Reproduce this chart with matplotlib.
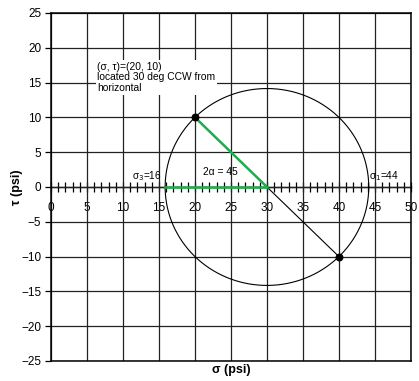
import numpy as np
import matplotlib.pyplot as plt
from matplotlib.ticker import MultipleLocator

plt.rcParams['font.family'] = ['Liberation Sans', 'DejaVu Sans']

# Stress state
sigma_x = 20
sigma_y = 40
tau_xy = 10

center = (sigma_x + sigma_y) / 2
radius = np.sqrt(((sigma_y - sigma_x) / 2) ** 2 + tau_xy ** 2)
sigma_1 = center + radius
sigma_3 = center - radius

point_a = [sigma_x, tau_xy]
point_b = [sigma_y, -tau_xy]

green = "#1fae4b"

# Create Figure
figure_1 = plt.figure(figsize=(4.19, 3.81), dpi=100)
axis_1 = figure_1.add_axes([0.1217, 0.0525, 0.859, 0.9135])

axis_1.set_xlim(0, 50)
axis_1.set_ylim(-25, 25)

# Grid
axis_1.xaxis.set_major_locator(MultipleLocator(5))
axis_1.yaxis.set_major_locator(MultipleLocator(5))
axis_1.grid(True, color="#222222", linewidth=0.9)
axis_1.set_axisbelow(True)
for spine in axis_1.spines.values():
    spine.set_linewidth(1.1)
    spine.set_color("black")

axis_1.tick_params(axis="x", bottom=False, labelbottom=False)
axis_1.tick_params(axis="y", direction="out", length=4, width=0.9, labelsize=8.5, pad=3)

# Horizontal axis through tau = 0
x_axis = axis_1.secondary_xaxis(0.5)
x_axis.xaxis.set_major_locator(MultipleLocator(5))
x_axis.xaxis.set_minor_locator(MultipleLocator(1))
x_axis.xaxis.set_ticks_position("bottom")
x_axis.tick_params(which="both", direction="inout", length=7, width=0.9, labelsize=8.5, pad=7,
                   bottom=True, labelbottom=True, top=False, labeltop=False)
for name, spine in x_axis.spines.items():
    spine.set_visible(name == "bottom")
x_axis.spines["bottom"].set_linewidth(1.0)

# Mohr circle
theta = np.linspace(0, 2 * np.pi, 400)
axis_1.plot(center + radius * np.cos(theta), radius * np.sin(theta), color="black", linewidth=0.8)
axis_1.plot([point_a[0], point_b[0]], [point_a[1], point_b[1]], color="black", linewidth=0.8)

# Angle lines
axis_1.plot([point_a[0], center], [point_a[1], 0], color=green, linewidth=1.8)
axis_1.plot([sigma_3, center], [0, 0], color=green, linewidth=1.8)

axis_1.scatter([point_a[0], point_b[0]], [point_a[1], point_b[1]], color="black", s=22, zorder=5)

# Annotations
axis_1.text(6.4, 18.0, "(σ, τ)=(20, 10)\nlocated 30 deg CCW from\nhorizontal",
            fontsize=7.4, va="top", ha="left", linespacing=1.1,
            bbox=dict(facecolor="white", edgecolor="none", pad=1.0))
axis_1.text(13.3, 1.6, "σ$_3$=%d" % round(sigma_3), fontsize=7.2, ha="center", va="center")
axis_1.text(46.2, 1.6, "σ$_1$=%d" % round(sigma_1), fontsize=7.2, ha="center", va="center")
axis_1.text(23.5, 2.1, "2α = 45", fontsize=7.4, ha="center", va="center")

# Set Labels
axis_1.set_xlabel("σ (psi)", fontsize=9, fontweight="bold", labelpad=2)
axis_1.set_ylabel("τ (psi)", fontsize=9, fontweight="bold", labelpad=-1)

plt.savefig("out.png", dpi=100)
plt.close()
